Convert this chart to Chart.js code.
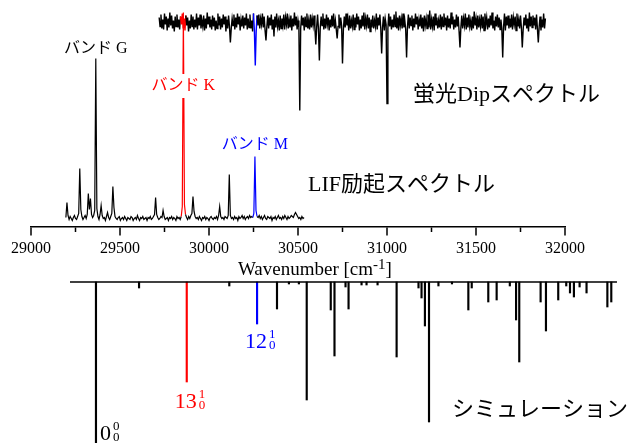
<!DOCTYPE html>
<html>
<head>
<meta charset="utf-8">
<script src="https://cdn.jsdelivr.net/npm/chart.js@4.4.1/dist/chart.umd.min.js"></script>
<style>
  html, body { margin: 0; padding: 0; background: #fff; }
  #wrap { width: 627px; height: 443px; }
</style>
</head>
<body>
<div id="wrap"><canvas id="c" width="627" height="443"></canvas></div>
<script>
// ---- LIF excitation spectrum (uniform wavenumber grid, intensity in arbitrary units) ----
const lifStart = 29196;
const lifStep = 6;
const lifIntensity = [
  1, 16, 3, -1, 2, 0, -2, 1, 3, 0, -1, 2, 5, 50, 9, 2, -1, 1, 3, 0,
  4, 25, 9, 20, 4, 1, 3, 8, 160, 10, 2, -1, 4, 13, 3, 0, 1, -2, 2, 6,
  1, -1, 2, 5, 32, 11, 2, 0, -1, 1, 2, -2, 0, 1, -1, 2, 0, -2, 1, 0,
  -1, 2, 1, -2, 0, 1, -1, 3, 0, -2, 1, 0, 2, -1, 0, 1, -2, 1, 0, 2,
  -1, 0, 2, 4, 21, 4, 1, -1, 0, 2, 1, 8, 2, -1, 0, 1, -2, 1, 0, 2,
  -1, 1, 0, -2, 2, 0, 1, -1, 2, 12, 206, 14, 4, 1, -1, 2, 0, 3, 5, 22,
  7, 2, 0, 1, -1, 2, 0, -2, 1, 0, 2, -1, 1, 0, -2, 1, 2, 0, -1, 1,
  0, 2, -1, 3, 12, 2, 0, 1, -1, 2, 1, 0, 3, 44, 3, 0, 1, -1, 2, 0,
  1, -2, 2, 0, 1, 3, 0, 2, -1, 1, 2, 0, 3, 1, 2, 1, 5, 62, 8, 2,
  1, 3, 0, 2, -1, 1, 3, 0, -1, 2, 1, 0, 2, -2, 1, 0, 2, -1, 1, 3,
  0, 1, -1, 2, 0, 3, 1, -1, 2, 0, 1, 3, 2, 1, 4, 6, 4, 2, 0, 1,
  -1, 2, 0, 1
];

// ---- Fluorescence dip spectrum (signal relative to its mean level) ----
const dipStart = 29720;
const dipStep = 5;
const dipSignal = [
  5, -4, 8, -6, 3, -7, 9, -2, 6, -8, 4, -5, 10, -3, 7, -6, 2, -9, 6, -4,
  8, -5, 3, -7, 6, -2, 9, -6, 4, -8, 7, -3, 5, -9, 2, -6, 8, -4, 6, -7,
  3, -5, 9, -7, 5, -3, 8, -6, 2, -4, 7, -8, 4, -6, 10, -2, 6, -5, 3, -7,
  7, -4, 5, -8, 2, -6, 9, -3, 6, -7, 4, -5, 8, -2, 6, -9, 3, -6, 7, -4,
  -20, -6, 4, -3, 8, -7, 5, -5, 9, -2, 6, -8, 3, -4, 7, -6, 5, -3, 9, -7,
  4, -5, 8, -6, 2, -9, 9, -8, -43, -9, 7, -3, 8, -6, 4, -2, 9, -5, 6, -8,
  -18, -4, 7, -6, 5, -3, 8, -7, 3, -14, 6, -5, 9, -4, 2, -8, 7, -6, 4, -3,
  8, -7, 5, -2, 9, -6, 3, -5, 7, -8, 4, -4, 10, -3, 6, -7, 2, -5, -88, -6,
  7, -3, 5, -8, 6, -4, 9, -6, 2, -7, 8, -5, 4, -3, 7, -6, -22, -4, 8, -7,
  -38, -5, 6, -3, 9, -7, 4, -6, 8, -2, 5, -8, 3, -5, 7, -4, 9, -6, 2, -7,
  -16, -4, 8, -6, 5, -3, -41, -7, 6, -5, 9, -3, 4, -8, 7, -6, 2, -4, 8, -7,
  5, -5, 9, -2, 6, -8, 3, -6, 7, -4, 10, -7, 4, -3, 8, -6, 5, -9, 3, -5,
  7, -6, 2, -4, 9, -7, 5, -3, 8, -6, -31, -5, 6, -8, 4, -2, -81, -6, 9, -4,
  6, -7, 3, -5, 8, -4, 11, -6, 5, -8, 7, -3, 4, -6, 9, -5, 2, -7, -35, -4,
  8, -6, 5, -3, 7, -8, 4, -5, 9, -2, 6, -7, 3, -4, 8, -6, 5, -9, 7, -3,
  4, -6, 8, -5, 12, -7, 3, -4, 6, -8, 9, -3, 5, -6, 2, -5, 8, -7, 6, -4,
  9, -3, 5, -8, 7, -5, 4, -6, 10, -2, 6, -7, 3, -5, 8, -4, 6, -9, -25, -5,
  7, -6, 4, -3, 9, -7, 5, -5, 8, -4, 2, -8, 6, -6, 11, -3, 4, -7, 7, -5,
  3, -4, 8, -6, 6, -8, 9, -2, 5, -7, 4, -5, 7, -3, 10, -6, 2, -8, 6, -4,
  8, -5, 5, -7, 3, -6, -35, -4, 9, -8, 6, -3, 7, -6, 4, -5, 8, -7, 5, -2,
  6, -8, 9, -4, 3, -6, 7, -5, -25, -7, 5, -3, 8, -6, 4, -9, 10, -4, 6, -5,
  7, -3, 5, -7, 8, -6, -20, -4, 6, -8, 3, -5, 9, -6, 4
];

// ---- Simulated stick spectrum ----
const simRange = [29219, 32292];
const stickWavenumbers = [
  29365, 29607, 29875, 30114, 30270, 30382, 30449, 30505, 30549, 30684,
  30705, 30767, 30784, 30857, 30885, 30947, 31054, 31177, 31194, 31213,
  31236, 31289, 31365, 31457, 31476, 31569, 31616, 31690, 31725, 31743,
  31863, 31893, 31962, 32007, 32028, 32050, 32082, 32121, 32238, 32260
];
const stickIntensities = [
  175, 6, 100, 4, 42, 27, 2, 2, 118, 28,
  74, 5, 27, 3, 3, 3, 75, 6, 16, 44,
  140, 4, 2, 28, 6, 20, 18, 4, 38, 80,
  20, 49, 18, 4, 11, 15, 5, 11, 25, 20
];

// ---- Axis ticks ----
const majorTickValues = [29000, 29500, 30000, 30500, 31000, 31500, 32000];
const minorTickValues = [29250, 29750, 30250, 30750, 31250, 31750];

// Assigned bands: LIF window, dip window and matching simulated stick
const RED = '#ff0000';
const BLUE = '#0000ff';
const bandK = { lo: 29840, hi: 29870, color: RED };
const bandM = { lo: 30246, hi: 30270, color: BLUE };
const stickHighlight = { 29875: RED, 30270: BLUE };

// Vertical placement of the three stacked traces (axis value 0 = wavenumber axis)
const LIF_BASE = 8.5;
const DIP_BASE = 204.5;
const SIM_BASE = -55;

const SERIF = '"Liberation Serif", "Noto Sans CJK JP", serif';

function segColor(ctx, fallback) {
  const a = ctx.p0.parsed.x, b = ctx.p1.parsed.x;
  for (const band of [bandK, bandM]) {
    if (a >= band.lo && b <= band.hi) return band.color;
  }
  return fallback;
}

const lifPoints = lifIntensity.map((v, i) => ({ x: lifStart + i * lifStep, y: LIF_BASE + v }));
const dipPoints = dipSignal.map((v, i) => ({ x: dipStart + i * dipStep, y: DIP_BASE + v }));
const stickBars = stickWavenumbers.map((w, i) => ({ x: w, y: [SIM_BASE, SIM_BASE - stickIntensities[i]] }));
const stickColors = stickWavenumbers.map(w => stickHighlight[w] || '#000');
const simBaseline = simRange.map(w => ({ x: w, y: SIM_BASE }));

// Outward tick marks on the wavenumber axis: long at labelled values, short in between
const tickMarks = {
  id: 'tickMarks',
  afterDraw(chart) {
    const ctx = chart.ctx;
    const sx = chart.scales.x, sy = chart.scales.y;
    const y0 = Math.round(sy.getPixelForValue(0)) + 0.5;
    ctx.save();
    ctx.strokeStyle = '#000';
    ctx.lineWidth = 1.5;
    ctx.beginPath();
    for (const v of majorTickValues) {
      const x = sx.getPixelForValue(v);
      ctx.moveTo(x, y0); ctx.lineTo(x, y0 + 8);
    }
    for (const v of minorTickValues) {
      const x = sx.getPixelForValue(v);
      ctx.moveTo(x, y0); ctx.lineTo(x, y0 + 4.5);
    }
    ctx.stroke();
    ctx.restore();
  }
};

// Text annotations drawn on top of the traces
const annotations = {
  id: 'annotations',
  afterDatasetsDraw(chart) {
    const ctx = chart.ctx;
    const sx = chart.scales.x, sy = chart.scales.y;
    const X = v => sx.getPixelForValue(v);
    const Y = v => sy.getPixelForValue(v);
    ctx.save();

    // band labels above the LIF peaks
    const bandLabels = [
      { text: 'バンド G', wn: 29364, v: 178, color: '#000', bg: false },
      { text: 'バンド K', wn: 29856, v: 141, color: RED, bg: true },
      { text: 'バンド M', wn: 30258, v: 82, color: BLUE, bg: false }
    ];
    ctx.font = '16px ' + SERIF;
    ctx.textAlign = 'center';
    ctx.textBaseline = 'middle';
    for (const l of bandLabels) {
      const x = X(l.wn), y = Y(l.v);
      if (l.bg) {
        const w = ctx.measureText(l.text).width;
        ctx.fillStyle = '#fff';
        ctx.fillRect(x - w / 2 - 3, y - 12, w + 6, 24);
      }
      ctx.fillStyle = l.color;
      ctx.fillText(l.text, x, y);
    }

    // trace names
    ctx.font = '22px ' + SERIF;
    ctx.textAlign = 'left';
    ctx.fillStyle = '#000';
    ctx.fillText('蛍光Dipスペクトル', X(31146), Y(132));
    ctx.fillText('LIF励起スペクトル', X(30556), Y(42));
    ctx.fillText('シミュレーション', X(31365), Y(-183));

    // axis title with superscript
    const axisY = Y(0);
    ctx.textBaseline = 'alphabetic';
    ctx.font = '19px "Liberation Serif"';
    const t1 = 'Wavenumber [cm', t3 = ']';
    const w1 = ctx.measureText(t1).width, w3 = ctx.measureText(t3).width;
    ctx.font = '15px "Liberation Serif"';
    const w2 = ctx.measureText('-1').width;
    const tx = X(30595) - (w1 + w2 + w3) / 2;
    const ty = axisY + 48;
    ctx.font = '19px "Liberation Serif"';
    ctx.fillText(t1, tx, ty);
    ctx.font = '15px "Liberation Serif"';
    ctx.fillText('-1', tx + w1, ty - 6);
    ctx.font = '19px "Liberation Serif"';
    ctx.fillText(t3, tx + w1 + w2, ty);

    // vibronic assignments of the simulated sticks
    function stickLabel(main, sub, sup, x, base, color) {
      ctx.fillStyle = color;
      ctx.font = '22px "Liberation Serif"';
      ctx.fillText(main, x, base);
      const w = ctx.measureText(main).width;
      ctx.font = '13px "Liberation Serif"';
      ctx.fillText(sup, x + w + 2, base - 10.5);
      ctx.fillText(sub, x + w + 2, base + 1);
    }
    const tip = (wn) => Y(SIM_BASE - stickIntensities[stickWavenumbers.indexOf(wn)]);
    stickLabel('13', '0', '1', X(29875) - 12, tip(29875) + 26, RED);
    stickLabel('12', '0', '1', X(30270) - 12, tip(30270) + 24, BLUE);
    stickLabel('0', '0', '0', X(29365) + 4, Y(-213), '#000');

    ctx.restore();
  }
};

new Chart(document.getElementById('c'), {
  type: 'line',
  data: {
    datasets: [
      {
        label: 'LIF',
        data: lifPoints,
        borderColor: '#000',
        borderWidth: 1.2,
        pointRadius: 0,
        tension: 0,
        segment: { borderColor: ctx => segColor(ctx, '#000') }
      },
      {
        label: 'Dip',
        data: dipPoints,
        borderColor: '#000',
        borderWidth: 1.4,
        pointRadius: 0,
        tension: 0,
        segment: { borderColor: ctx => segColor(ctx, '#000') }
      },
      {
        label: 'Simulation baseline',
        data: simBaseline,
        borderColor: '#000',
        borderWidth: 1.7,
        pointRadius: 0,
        clip: false
      },
      {
        type: 'bar',
        label: 'Simulation',
        data: stickBars,
        backgroundColor: stickColors,
        borderWidth: 0,
        barThickness: 1.5,
        grouped: false,
        clip: false
      }
    ]
  },
  options: {
    responsive: false,
    animation: false,
    events: [],
    layout: { padding: { left: 31, right: 62, top: 0, bottom: 0 } },
    plugins: { legend: { display: false }, tooltip: { enabled: false } },
    scales: {
      x: {
        type: 'linear',
        min: 29000,
        max: 32000,
        offset: false,
        position: { y: 0 },
        afterBuildTicks: s => { s.ticks = majorTickValues.map(v => ({ value: v })); },
        ticks: {
          font: { family: '"Liberation Serif"', size: 16 },
          color: '#000',
          maxRotation: 0,
          autoSkip: false,
          padding: 4,
          callback: v => String(v)
        },
        grid: {
          drawOnChartArea: false,
          drawTicks: true,
          tickLength: 8,
          tickColor: 'rgba(0,0,0,0)'
        },
        border: { display: true, color: '#000', width: 1.6 }
      },
      y: { type: 'linear', min: -216, max: 227, display: false }
    }
  },
  plugins: [annotations, tickMarks]
});
</script>
</body>
</html>
